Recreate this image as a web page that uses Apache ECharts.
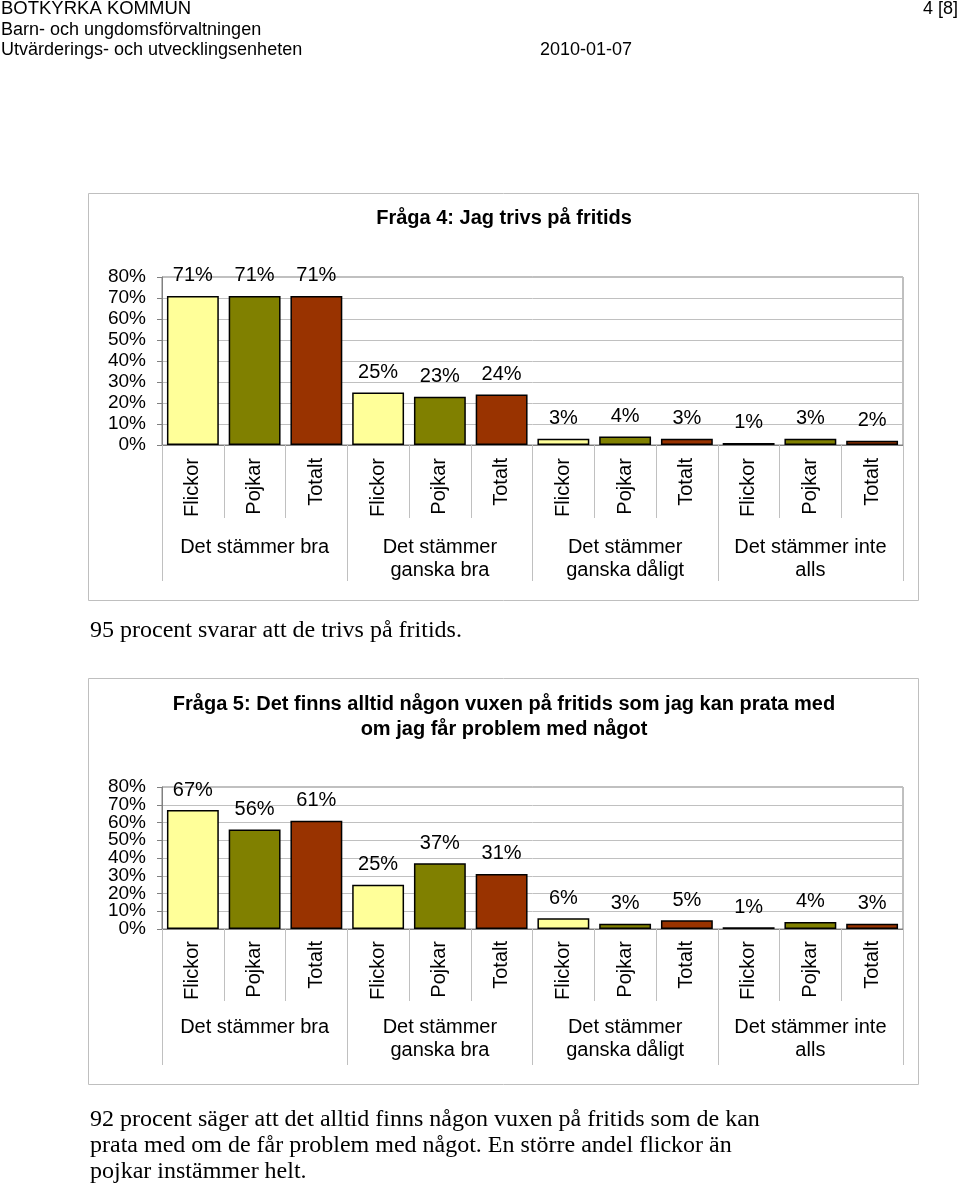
<!DOCTYPE html>
<html>
<head>
<meta charset="utf-8">
<script src="https://cdn.jsdelivr.net/npm/echarts@6/dist/echarts.min.js"></script>
<style>
html,body{margin:0;padding:0;background:#fff;}
#page{position:absolute;left:0;top:0;width:960px;height:1186px;}
</style>
</head>
<body>
<div id="page"></div>
<script>
// ---- data ----
const categories = ['Flickor','Pojkar','Totalt','Flickor','Pojkar','Totalt','Flickor','Pojkar','Totalt','Flickor','Pojkar','Totalt'];
const groups = ['Det stämmer bra','Det stämmer\nganska bra','Det stämmer\nganska dåligt','Det stämmer inte\nalls'];
const q4Values = [71,71,71,25,23,24,3,4,3,1,3,2];
const q5Values = [67,56,61,25,37,31,6,3,5,1,4,3];
const yMin = 0, yMax = 80, yStep = 10;
const q4Title = 'Fråga 4: Jag trivs på fritids';
const q5TitleLines = ['Fråga 5: Det finns alltid någon vuxen på fritids som jag kan prata med','om jag får problem med något'];
const q4Text = ['95 procent svarar att de trivs på fritids.'];
const q5Text = ['92 procent säger att det alltid finns någon vuxen på fritids som de kan','prata med om de får problem med något. En större andel flickor än','pojkar instämmer helt.'];
const headerLines = ['BOTKYRKA KOMMUN','Barn- och ungdomsförvaltningen','Utvärderings- och utvecklingsenheten'];
const headerDate = '2010-01-07';
const headerPage = '4 [8]';

// ---- styles ----
const SANS = '"Liberation Sans", Arial, Helvetica, sans-serif';
const SERIF = '"Liberation Serif", "Times New Roman", serif';
const barColors = ['#FFFF99','#808000','#993300'];
const axisGray = '#808080';
const gridGray = '#c0c0c0';

const chart = echarts.init(document.getElementById('page'), null, {renderer:'canvas', width:960, height:1186});

function grids(top, height){
  return {left:162, top:top, width:741, height:height, show:true, borderColor:axisGray, borderWidth:1, backgroundColor:'transparent'};
}
// Two value axes per grid: one carries the even tick labels, the other the odd ones,
// so that tightly packed labels are all shown (none dropped by overlap checks).
function yAx(idx, parity){
  const main = parity === 0;
  return {
    type:'value', gridIndex:idx, min:yMin, max:yMax, interval:yStep, position:'left',
    axisLine:{show:main, lineStyle:{color:axisGray, width:1}},
    axisTick:{show:main, length:5, lineStyle:{color:axisGray}},
    splitLine:{show:main, lineStyle:{color:gridGray, width:1}},
    axisLabel:{
      formatter:function(v){ return (Math.round((v - yMin)/yStep) % 2 === parity) ? v + '%' : ''; },
      fontSize:19, fontFamily:SANS, color:'#000', margin:16,
      showMinLabel:true, showMaxLabel:true, hideOverlap:false
    }
  };
}
function xCat(idx, shortLen, labMargin){
  return {
    type:'category', gridIndex:idx, data:categories, position:'bottom',
    axisLine:{show:true, lineStyle:{color:axisGray, width:1}},
    axisTick:{show:true, length:shortLen, interval:0, alignWithLabel:false, lineStyle:{color:gridGray}},
    axisLabel:{interval:0, rotate:90, fontSize:20, fontFamily:SANS, color:'#000', margin:labMargin}
  };
}
function xGroup(idx, longLen, labMargin){
  return {
    type:'category', gridIndex:idx, data:groups, position:'bottom',
    axisLine:{show:false},
    axisTick:{show:true, length:longLen, interval:0, alignWithLabel:false, lineStyle:{color:gridGray}},
    axisLabel:{interval:0, fontSize:20, fontFamily:SANS, color:'#000', margin:labMargin, lineHeight:23}
  };
}
function barSeries(values, xi, yi){
  return {
    type:'bar', xAxisIndex:xi, yAxisIndex:yi, barCategoryGap:'16%',
    data: values.map((v,i)=>({value:v, itemStyle:{color:barColors[i%3]}})),
    itemStyle:{borderColor:'#000', borderWidth:1.5},
    label:{show:true, position:'top', distance:10, formatter:'{c}%', fontSize:20, fontFamily:SANS, color:'#000'},
    animation:false
  };
}
function txt(text, x, y, font, align){
  return {type:'text', silent:true, style:{text:text, x:x, y:y, font:font, fill:'#000',
    align:align||'left', textAlign:align||'left', verticalAlign:'middle', textVerticalAlign:'middle'}};
}

const graphics = [
  {type:'rect', silent:true, shape:{x:88.5,y:193.5,width:830,height:407}, style:{fill:'none', stroke:'#bfbfbf', lineWidth:1}},
  {type:'rect', silent:true, shape:{x:88.5,y:678.5,width:830,height:406}, style:{fill:'none', stroke:'#bfbfbf', lineWidth:1}},
  txt(headerLines[0], 1, 9, '18.5px '+SANS),
  txt(headerLines[1], 1, 30, '18px '+SANS),
  txt(headerLines[2], 1, 50, '18px '+SANS),
  txt(headerDate, 540, 50, '18px '+SANS),
  txt(headerPage, 958, 9, '18px '+SANS, 'right'),
  txt(q4Title, 504, 218, 'bold 20px '+SANS, 'center'),
  txt(q5TitleLines[0], 504, 704, 'bold 20px '+SANS, 'center'),
  txt(q5TitleLines[1], 504, 729, 'bold 20px '+SANS, 'center'),
  txt(q4Text[0], 90, 631, '24px '+SERIF),
  txt(q5Text[0], 90, 1120, '24px '+SERIF),
  txt(q5Text[1], 90, 1146, '24px '+SERIF),
  txt(q5Text[2], 90, 1172, '24px '+SERIF)
];

chart.setOption({
  animation:false,
  backgroundColor:'#fff',
  grid:[grids(277,168), grids(787,142)],
  xAxis:[xCat(0,73,13), xGroup(0,136,91), xCat(1,72,12), xGroup(1,136,87)],
  yAxis:[yAx(0,0), yAx(0,1), yAx(1,0), yAx(1,1)],
  series:[barSeries(q4Values,0,0), barSeries(q5Values,2,2)],
  graphic:{elements:graphics}
});
</script>
</body>
</html>
